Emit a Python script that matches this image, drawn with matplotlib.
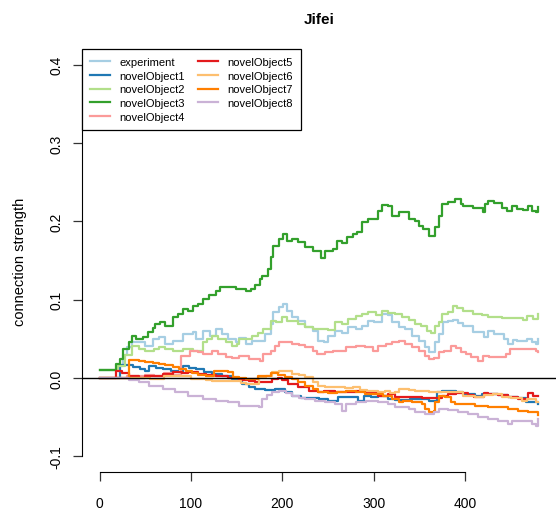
import matplotlib
matplotlib.use('Agg')
import matplotlib.pyplot as plt

# Connection strength of each object over the trials, read as (trial, value) steps
experiment = [(0, 0.010), (20, 0.015), (26, 0.030), (30, 0.040), (36, 0.046), (50, 0.041), (58, 0.050),
              (65, 0.052), (72, 0.043), (80, 0.047), (91, 0.056), (102, 0.059), (105, 0.050), (113, 0.060),
              (121, 0.054), (127, 0.063), (134, 0.056), (141, 0.050), (149, 0.046), (152, 0.051), (160, 0.043),
              (167, 0.047), (181, 0.056), (187, 0.069), (190, 0.084), (196, 0.091), (201, 0.095), (205, 0.086),
              (211, 0.078), (217, 0.073), (225, 0.065), (233, 0.060), (239, 0.047), (245, 0.046), (250, 0.054),
              (258, 0.060), (265, 0.057), (272, 0.065), (280, 0.062), (287, 0.067), (294, 0.073), (300, 0.071),
              (309, 0.082), (315, 0.080), (320, 0.071), (327, 0.065), (334, 0.063), (342, 0.054), (349, 0.047),
              (356, 0.040), (360, 0.033), (367, 0.046), (371, 0.056), (376, 0.071), (381, 0.073), (387, 0.074),
              (392, 0.070), (397, 0.067), (408, 0.059), (420, 0.052), (425, 0.060), (431, 0.056), (442, 0.050),
              (447, 0.043), (452, 0.049), (457, 0.047), (468, 0.050), (473, 0.046), (477, 0.043), (480, 0.050)]

novel1 = [(0, 0.0), (22, 0.017), (37, 0.014), (44, 0.012), (50, 0.009), (54, 0.015), (62, 0.013), (69, 0.011),
          (78, 0.009), (86, 0.008), (91, 0.015), (98, 0.013), (105, 0.011), (114, 0.008), (123, 0.005),
          (134, 0.002), (145, -0.001), (156, -0.008), (163, -0.012), (170, -0.014), (181, -0.015), (192, -0.014),
          (203, -0.018), (211, -0.023), (220, -0.025), (229, -0.026), (240, -0.027), (250, -0.029), (261, -0.024),
          (272, -0.024), (283, -0.029), (289, -0.023), (297, -0.024), (305, -0.023), (316, -0.027), (323, -0.028),
          (340, -0.027), (360, -0.029), (369, -0.018), (375, -0.016), (390, -0.018), (397, -0.020), (411, -0.023),
          (418, -0.021), (425, -0.021), (436, -0.022), (447, -0.024), (458, -0.026), (466, -0.031), (480, -0.033)]

novel2 = [(0, 0.010), (20, 0.015), (28, 0.030), (36, 0.041), (43, 0.037), (50, 0.035), (59, 0.037), (65, 0.039),
          (72, 0.037), (80, 0.035), (91, 0.037), (102, 0.035), (113, 0.046), (117, 0.050), (123, 0.054),
          (130, 0.050), (138, 0.046), (145, 0.041), (150, 0.043), (152, 0.050), (160, 0.050), (167, 0.054),
          (173, 0.058), (179, 0.063), (187, 0.073), (193, 0.071), (200, 0.078), (205, 0.073), (211, 0.073),
          (217, 0.069), (225, 0.065), (233, 0.063), (244, 0.063), (250, 0.061), (258, 0.071), (265, 0.069),
          (272, 0.075), (280, 0.079), (287, 0.082), (294, 0.084), (302, 0.080), (309, 0.086), (316, 0.083),
          (323, 0.082), (331, 0.078), (338, 0.074), (345, 0.069), (352, 0.067), (358, 0.060), (363, 0.058),
          (367, 0.067), (371, 0.071), (375, 0.082), (381, 0.084), (387, 0.092), (391, 0.090), (397, 0.086),
          (408, 0.082), (418, 0.080), (425, 0.078), (440, 0.077), (455, 0.077), (463, 0.074), (468, 0.079),
          (474, 0.075), (480, 0.082)]

novel3 = [(0, 0.010), (18, 0.018), (22, 0.024), (26, 0.037), (32, 0.046), (35, 0.054), (40, 0.050), (48, 0.052),
          (53, 0.059), (58, 0.064), (61, 0.069), (66, 0.071), (72, 0.067), (80, 0.078), (86, 0.082), (91, 0.088),
          (97, 0.086), (102, 0.092), (108, 0.094), (113, 0.101), (120, 0.106), (127, 0.111), (132, 0.116),
          (141, 0.116), (149, 0.114), (160, 0.111), (166, 0.113), (170, 0.119), (175, 0.127), (178, 0.130),
          (184, 0.139), (187, 0.155), (190, 0.169), (196, 0.178), (201, 0.184), (205, 0.175), (211, 0.177),
          (217, 0.174), (225, 0.167), (233, 0.162), (242, 0.153), (247, 0.162), (255, 0.165), (260, 0.175),
          (265, 0.172), (271, 0.180), (277, 0.184), (282, 0.186), (287, 0.199), (294, 0.203), (300, 0.203),
          (305, 0.213), (309, 0.221), (315, 0.220), (320, 0.207), (327, 0.212), (334, 0.212), (338, 0.203),
          (345, 0.201), (349, 0.194), (354, 0.190), (360, 0.181), (367, 0.193), (371, 0.207), (375, 0.222),
          (381, 0.225), (389, 0.229), (395, 0.222), (398, 0.220), (408, 0.217), (419, 0.212), (422, 0.222),
          (425, 0.226), (431, 0.224), (440, 0.217), (446, 0.213), (451, 0.220), (457, 0.216), (463, 0.215),
          (469, 0.220), (473, 0.213), (477, 0.212), (480, 0.218)]

novel4 = [(0, 0.0), (30, 0.002), (50, 0.004), (60, 0.002), (70, 0.006), (80, 0.004), (89, 0.028), (99, 0.035),
          (108, 0.033), (113, 0.031), (123, 0.035), (130, 0.031), (138, 0.027), (145, 0.025), (152, 0.028),
          (163, 0.024), (176, 0.022), (179, 0.031), (187, 0.035), (192, 0.041), (196, 0.046), (211, 0.043),
          (218, 0.042), (225, 0.040), (233, 0.035), (238, 0.031), (247, 0.033), (255, 0.035), (269, 0.040),
          (280, 0.041), (290, 0.039), (299, 0.035), (305, 0.041), (313, 0.043), (320, 0.046), (328, 0.047),
          (334, 0.043), (342, 0.039), (349, 0.035), (356, 0.028), (360, 0.024), (366, 0.026), (371, 0.033),
          (377, 0.035), (384, 0.041), (390, 0.038), (395, 0.033), (401, 0.031), (406, 0.027), (414, 0.022),
          (419, 0.028), (426, 0.027), (433, 0.027), (444, 0.031), (449, 0.037), (477, 0.035), (480, 0.033)]

novel5 = [(0, 0.0), (18, 0.009), (25, 0.006), (32, 0.003), (43, 0.0), (50, 0.002), (58, 0.003), (69, 0.005),
          (80, 0.008), (90, 0.007), (97, 0.008), (108, 0.005), (116, 0.004), (127, 0.003), (141, 0.0),
          (152, -0.002), (163, -0.004), (170, -0.005), (189, -0.001), (195, 0.0), (200, -0.003), (206, -0.008),
          (217, -0.012), (229, -0.016), (239, -0.018), (246, -0.016), (258, -0.018), (280, -0.016), (290, -0.018),
          (305, -0.023), (315, -0.021), (323, -0.024), (340, -0.024), (353, -0.026), (366, -0.025), (375, -0.023),
          (381, -0.020), (390, -0.019), (403, -0.022), (410, -0.024), (420, -0.019), (425, -0.021), (436, -0.022),
          (447, -0.024), (458, -0.027), (469, -0.019), (474, -0.023), (480, -0.023)]

novel6 = [(0, 0.0), (30, 0.0), (55, -0.001), (70, 0.003), (85, 0.002), (100, -0.001), (116, -0.002),
          (123, -0.004), (155, -0.007), (160, -0.008), (174, 0.001), (182, 0.003), (189, 0.008), (196, 0.009),
          (211, 0.005), (218, 0.004), (225, 0.001), (233, -0.005), (239, -0.010), (247, -0.012), (268, -0.013),
          (277, -0.012), (285, -0.015), (293, -0.016), (305, -0.018), (312, -0.016), (318, -0.019), (323, -0.018),
          (327, -0.014), (338, -0.015), (345, -0.016), (360, -0.018), (397, -0.023), (411, -0.024), (420, -0.022),
          (430, -0.020), (440, -0.024), (450, -0.026), (462, -0.029), (468, -0.027), (477, -0.031), (480, -0.031)]

novel7 = [(0, 0.0), (28, 0.0), (32, 0.023), (43, 0.022), (50, 0.021), (58, 0.019), (65, 0.018), (72, 0.016),
          (80, 0.014), (87, 0.012), (94, 0.009), (101, 0.007), (108, 0.004), (116, 0.003), (125, 0.009),
          (141, 0.008), (146, 0.001), (152, 0.0), (160, -0.001), (173, 0.003), (187, 0.006), (195, 0.004),
          (203, 0.001), (210, -0.001), (217, -0.005), (225, -0.010), (233, -0.014), (239, -0.018), (250, -0.019),
          (260, -0.018), (269, -0.016), (280, -0.018), (290, -0.020), (310, -0.023), (320, -0.027), (327, -0.031),
          (332, -0.029), (342, -0.031), (353, -0.033), (356, -0.040), (360, -0.043), (366, -0.042), (367, -0.031),
          (371, -0.023), (378, -0.024), (384, -0.031), (389, -0.033), (400, -0.033), (411, -0.036), (425, -0.037),
          (440, -0.037), (447, -0.039), (458, -0.042), (469, -0.043), (480, -0.047)]

novel8 = [(0, 0.0), (20, 0.0), (32, -0.002), (43, -0.005), (54, -0.010), (69, -0.014), (83, -0.018),
          (97, -0.023), (113, -0.027), (127, -0.029), (141, -0.031), (152, -0.036), (174, -0.037), (178, -0.027),
          (183, -0.022), (189, -0.018), (196, -0.016), (204, -0.019), (211, -0.023), (218, -0.025), (225, -0.027),
          (236, -0.029), (247, -0.031), (258, -0.033), (265, -0.042), (270, -0.033), (280, -0.031), (291, -0.029),
          (305, -0.031), (316, -0.033), (323, -0.037), (338, -0.040), (345, -0.043), (356, -0.046), (366, -0.044),
          (371, -0.040), (381, -0.041), (392, -0.043), (403, -0.046), (414, -0.050), (425, -0.052), (436, -0.055),
          (447, -0.059), (451, -0.055), (466, -0.055), (473, -0.059), (477, -0.061), (480, -0.052)]

series = [experiment, novel1, novel2, novel3, novel4, novel5, novel6, novel7, novel8]
labels = ['experiment', 'novelObject1', 'novelObject2', 'novelObject3', 'novelObject4',
          'novelObject5', 'novelObject6', 'novelObject7', 'novelObject8']
# RColorBrewer "Paired"
colors = ['#A6CEE3', '#1F78B4', '#B2DF8A', '#33A02C', '#FB9A99',
          '#E31A1C', '#FDBF6F', '#FF7F00', '#CAB2D6']

plt.rcParams['font.family'] = ['Liberation Sans', 'DejaVu Sans']

fig = plt.figure(figsize=(5.57, 5.10), dpi=100)
ax = fig.add_axes([82/557, 37/510, 474/557, 423/510])

for s, lab, col in zip(series, labels, colors):
    t = [p[0] for p in s]
    v = [p[1] for p in s]
    ax.plot(t, v, drawstyle='steps-post', color=col, lw=1.6, label=lab)

ax.axhline(0, color='black', lw=1)

ax.set_xlim(-19.2, 499.2)
ax.set_ylim(-0.12, 0.42)

# R style axes: no box, spines only across the tick range
for side in ['top', 'right']:
    ax.spines[side].set_visible(False)
ax.spines['left'].set_bounds(-0.1, 0.4)
ax.spines['bottom'].set_bounds(0, 400)
ax.set_xticks([0, 100, 200, 300, 400])
ax.set_yticks([-0.1, 0.0, 0.1, 0.2, 0.3, 0.4])
ax.set_yticklabels(['-0.1', '0.0', '0.1', '0.2', '0.3', '0.4'])
ax.tick_params(axis='both', length=6.5, width=0.9, labelsize=10, color='#333333')
ax.tick_params(axis='x', pad=11)
ax.tick_params(axis='y', pad=7, labelrotation=90)
for lab in ax.get_yticklabels():
    lab.set_va('center')

ax.set_ylabel('connection strength', fontsize=10.5)
ax.yaxis.set_label_coords(-0.116, 0.5)
ax.set_title('Jifei', fontweight='bold', fontsize=11, pad=19)

leg = ax.legend(loc='upper left', bbox_to_anchor=(0, 1), borderaxespad=0, ncol=2, fontsize=8,
                handlelength=1.8, handletextpad=0.8, columnspacing=1.2, labelspacing=0.32,
                borderpad=0.75, fancybox=False, framealpha=1)
leg.get_frame().set_edgecolor('black')
leg.get_frame().set_linewidth(0.9)

plt.savefig('out.png', dpi=100)
